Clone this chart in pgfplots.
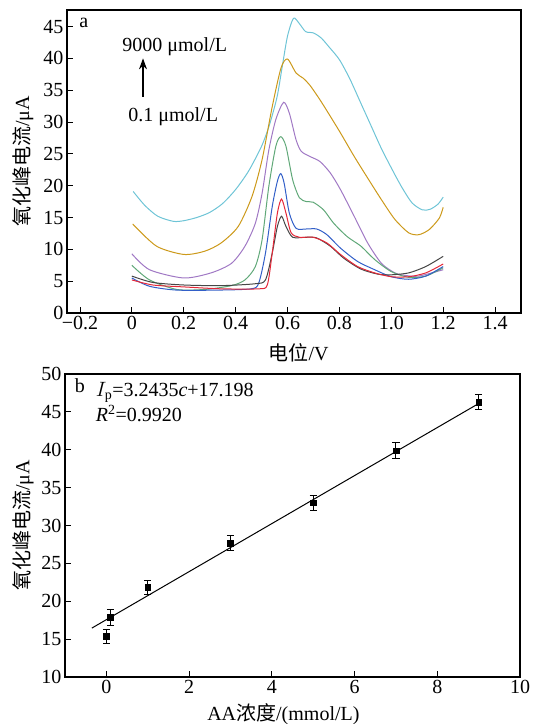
\documentclass[border=0pt]{standalone}
\usepackage{fontspec}
\setmainfont{Liberation Serif}
\newfontfamily\cjk{Noto Sans CJK SC}
\usepackage{pgfplots}
\pgfplotsset{compat=1.18}
\usetikzlibrary{arrows.meta}

\definecolor{cCyan}{RGB}{110,196,214}
\definecolor{cGold}{RGB}{204,153,26}
\definecolor{cPurple}{RGB}{160,120,196}
\definecolor{cGreen}{RGB}{96,168,120}
\definecolor{cBlue}{RGB}{50,95,200}
\definecolor{cRed}{RGB}{228,40,56}
\definecolor{cBlack}{RGB}{70,70,70}

\pgfplotsset{
  panel/.style={
    scale only axis,
    tick align=inside,
    tick pos=left,
    major tick length=6pt,
    axis line style={line width=1.1pt},
    every tick/.style={black, line width=0.9pt},
    /pgf/number format/assume math mode=true,
    tick label style={font=\fontsize{20}{24}\selectfont},
    label style={font=\fontsize{20}{24}\selectfont},
  },
  curve/.style={line width=1pt, smooth, tension=0.45},
}

\begin{document}
\begin{tikzpicture}[font=\fontsize{20}{24}\selectfont]
\path[use as bounding box] (0,0) rectangle (534pt,-724pt);

% ---- panel a ----
\begin{axis}[
    panel,
    at={(67pt,-10pt)}, anchor=north west,
    width=454pt, height=303pt,
    xmin=-0.25, xmax=1.5,
    ymin=0, ymax=47.6,
    xtick={-0.2,0,0.2,0.4,0.6,0.8,1.0,1.2,1.4},
    xticklabels={−0.2,0,0.2,0.4,0.6,0.8,1.0,1.2,1.4},
    ytick={0,5,...,45},
    xlabel={{\cjk 电位}/V},
    ylabel={{\cjk 氧化峰电流}/μA},
    xlabel style={at={(axis description cs:0.51,-0.13)}, anchor=center},
    ylabel style={at={(axis description cs:-0.097,0.5)}, anchor=center},
]
\addplot[curve, cCyan] coordinates {
 (0.005,19.1) (0.05,16.9) (0.1,15.2) (0.16,14.4) (0.2,14.5) (0.25,15.0)
 (0.3,15.8) (0.35,17.2) (0.4,19.4) (0.45,22.3) (0.5,26.2) (0.53,29.5)
 (0.56,34.0) (0.58,38.8) (0.6,43.5) (0.623,46.3) (0.645,45.5) (0.67,44.2)
 (0.7,44.0) (0.73,43.2) (0.76,41.8) (0.8,39.8) (0.84,36.8) (0.88,33.2)
 (0.92,29.6) (0.96,26.0) (1.0,22.8) (1.04,19.8) (1.08,17.3) (1.12,16.2)
 (1.15,16.3) (1.18,17.1) (1.2,18.2)
};
\addplot[curve, cGold] coordinates {
 (0.003,14.0) (0.095,10.5) (0.2,9.2) (0.28,9.7) (0.344,11.0) (0.41,13.6)
 (0.463,18.3) (0.502,24.1) (0.541,32.4) (0.575,38.5) (0.6,39.9) (0.633,37.7)
 (0.66,36.9) (0.686,35.8) (0.725,33.5) (0.765,30.9) (0.804,28.3) (0.857,24.6)
 (0.909,21.2) (0.962,17.8) (1.014,14.7) (1.067,12.6) (1.106,12.3) (1.146,13.1)
 (1.185,14.9) (1.2,16.6)
};
\addplot[curve, cPurple] coordinates {
 (0,9.3) (0.068,6.8) (0.2,5.5) (0.305,6.3) (0.384,7.8) (0.436,10.5)
 (0.476,14.1) (0.502,18.8) (0.528,25.6) (0.555,30.4) (0.585,33.1) (0.607,31.4)
 (0.633,27.2) (0.653,25.4) (0.686,24.6) (0.725,23.8) (0.765,22.0) (0.804,19.4)
 (0.857,15.2) (0.909,11.0) (0.962,7.8) (1.014,6.3) (1.054,5.9) (1.106,5.8)
 (1.2,6.8)
};
\addplot[curve, cGreen] coordinates {
 (0,7.5) (0.068,5.2) (0.173,3.7) (0.28,3.7) (0.384,4.3) (0.436,5.2)
 (0.476,7.3) (0.502,11.5) (0.528,19.9) (0.555,26.2) (0.574,27.7) (0.594,26.2)
 (0.62,20.9) (0.646,18.1) (0.673,17.5) (0.699,17.4) (0.739,16.2) (0.778,14.1)
 (0.83,12.0) (0.883,10.5) (0.936,8.4) (1.0,6.5) (1.067,5.6) (1.133,5.8)
 (1.2,7.1)
};
\addplot[curve, cBlue] coordinates {
 (0,5.5) (0.068,4.2) (0.173,3.6) (0.33,3.6) (0.46,3.8) (0.489,4.7)
 (0.515,9.4) (0.541,16.7) (0.561,20.7) (0.574,21.9) (0.587,20.4) (0.607,15.7)
 (0.633,13.3) (0.673,13.2) (0.712,13.2) (0.752,12.3) (0.804,10.2) (0.87,8.1)
 (0.936,6.8) (1.0,5.7) (1.067,5.3) (1.133,5.8) (1.2,7.3)
};
\addplot[curve, cBlack] coordinates {
 (0,5.8) (0.081,4.8) (0.2,4.4) (0.344,4.3) (0.476,4.6) (0.515,5.2)
 (0.541,9.4) (0.561,13.6) (0.577,15.2) (0.594,13.6) (0.62,11.9) (0.673,11.9)
 (0.712,11.8) (0.765,10.5) (0.817,8.6) (0.883,6.9) (0.949,6.1) (1.0,6.0)
 (1.067,6.3) (1.133,7.3) (1.2,8.9)
};
\addplot[curve, cRed] coordinates {
 (0,5.2) (0.081,4.4) (0.2,4.1) (0.344,3.8) (0.489,3.8) (0.522,4.4)
 (0.541,9.4) (0.561,15.7) (0.577,17.9) (0.594,15.7) (0.614,12.6) (0.646,11.9)
 (0.699,11.9) (0.752,11.0) (0.804,9.2) (0.87,7.3) (0.936,6.3) (1.0,5.7)
 (1.067,5.7) (1.133,6.3) (1.2,7.7)
};
\node at (axis cs:-0.185,45.6) {a};
\node[anchor=west] at (axis cs:-0.05,41.8) {9000 μmol/L};
\node[anchor=west] at (axis cs:-0.027,30.8) {0.1 μmol/L};
\draw[-{Stealth[length=11pt,width=8pt]}, line width=1.2pt] (axis cs:0.043,34.0) -- (axis cs:0.043,40.0);
\end{axis}

% ---- panel b ----
\begin{axis}[
    panel,
    at={(65pt,-374pt)}, anchor=north west,
    width=455pt, height=303pt,
    xmin=-1, xmax=10,
    ymin=10, ymax=50,
    xtick={0,2,...,10},
    ytick={10,15,...,50},
    xlabel={AA{\cjk 浓度}/(mmol/L)},
    ylabel={{\cjk 氧化峰电流}/μA},
    xlabel style={at={(axis description cs:0.48,-0.122)}, anchor=center},
    ylabel style={at={(axis description cs:-0.092,0.5)}, anchor=center},
]
\addplot[black, line width=1pt] coordinates {(-0.35,16.46) (9,46.1)};
\addplot[
    only marks, mark=square*, mark size=2.8pt, black,
    error bars/.cd, y dir=both, y explicit,
    error bar style={line width=0.9pt},
    error mark options={rotate=90, mark size=3.6pt, line width=0.9pt},
] coordinates {
 (0,15.36) +- (0,0.95)
 (0.1,17.87) +- (0,1.0)
 (1,21.85) +- (0,0.95)
 (3,27.7) +- (0,1.0)
 (5,33.0) +- (0,1.0)
 (7,39.9) +- (0,1.05)
 (9,46.3) +- (0,1.0)
};
\node at (axis cs:-0.64,48.5) {b};
\node[anchor=west] at (axis cs:-0.34,47.6) {$I_{\mathrm{p}}$=3.2435\textit{c}+17.198};
\node[anchor=west] at (axis cs:-0.34,44.8) {\textit{R}\textsuperscript{2}=0.9920};
\end{axis}
\end{tikzpicture}
\end{document}
